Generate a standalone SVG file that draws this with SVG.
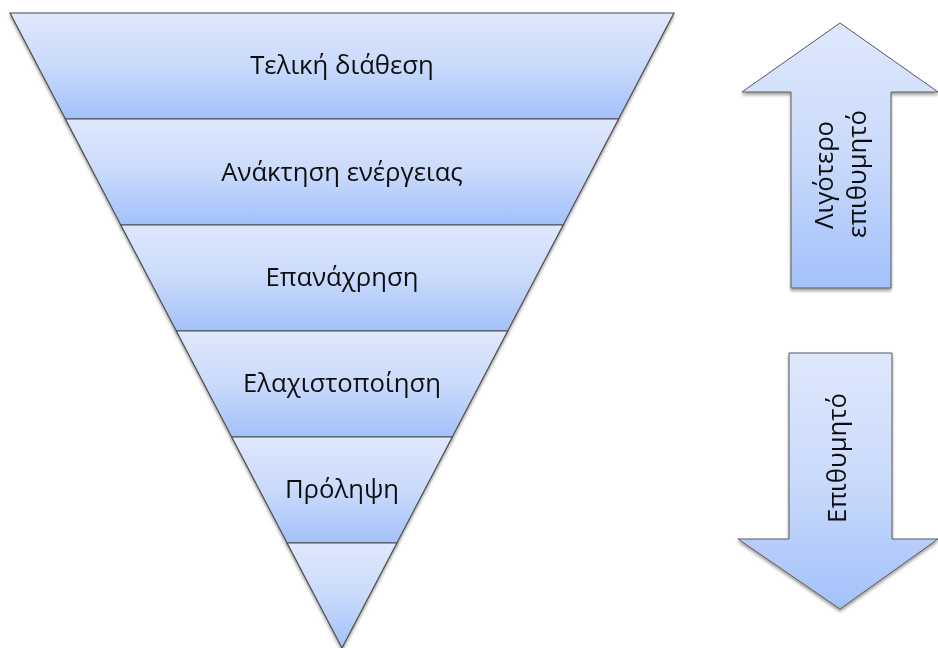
<svg xmlns="http://www.w3.org/2000/svg" width="938" height="648" viewBox="0 0 938 648">
  <defs>
    <linearGradient id="g" x1="0" y1="0" x2="0" y2="1">
      <stop offset="0" stop-color="#dfe8fc"/>
      <stop offset="0.5" stop-color="#c9dafb"/>
      <stop offset="1" stop-color="#a3c1fa"/>
    </linearGradient>
    <filter id="sh" x="-10%" y="-10%" width="120%" height="130%">
      <feDropShadow dx="0" dy="2.5" stdDeviation="1.6" flood-color="#000" flood-opacity="0.38"/>
    </filter>
  </defs>
  <style>
    .band { fill: url(#g); stroke: #4d4d4d; stroke-width: 1.2; stroke-linejoin: miter; }
    .arr { fill: url(#g); stroke: #5a5a5a; stroke-width: 1; }
    .t { font-family: "Open Sans", "Noto Sans", "DejaVu Sans", sans-serif; font-size: 25.7px; fill: #111; text-anchor: middle; }
  </style>
  <g id="band1" filter="url(#sh)">
    <polygon class="band" points="10,13 674,13 618.6,119 65.4,119"/>
    <text class="t" x="342" y="74">Τελική διάθεση</text>
  </g>
  <g id="band2" filter="url(#sh)">
    <polygon class="band" points="65.4,119 618.6,119 563.2,225 120.8,225"/>
    <text class="t" x="342" y="181">Ανάκτηση ενέργειας</text>
  </g>
  <g id="band3" filter="url(#sh)">
    <polygon class="band" points="120.8,225 563.2,225 507.7,331 176.3,331"/>
    <text class="t" x="342" y="286">Επανάχρηση</text>
  </g>
  <g id="band4" filter="url(#sh)">
    <polygon class="band" points="176.3,331 507.7,331 452.3,437 231.7,437"/>
    <text class="t" x="342" y="392">Ελαχιστοποίηση</text>
  </g>
  <g id="band5" filter="url(#sh)">
    <polygon class="band" points="231.7,437 452.3,437 396.9,543 287.1,543"/>
    <text class="t" x="342" y="498">Πρόληψη</text>
  </g>
  <g id="band6" filter="url(#sh)">
    <polygon class="band" points="287.1,543 396.9,543 342,648"/>
  </g>
  <g id="arrow-up" filter="url(#sh)">
    <polygon class="arr" points="840,23 938,92 891,92 891,288 791,288 791,92 742,92"/>
    <text class="t" transform="translate(833,175) rotate(-90)" x="0" y="0">Λιγότερο</text>
    <text class="t" transform="translate(866,174) rotate(-90)" x="0" y="0">επιθυμητό</text>
  </g>
  <g id="arrow-down" filter="url(#sh)">
    <polygon class="arr" points="789,353 892,353 892,539 938,539 840,609 738,539 789,539"/>
    <text class="t" transform="translate(846,458) rotate(-90)" x="0" y="0">Επιθυμητό</text>
  </g>
</svg>
